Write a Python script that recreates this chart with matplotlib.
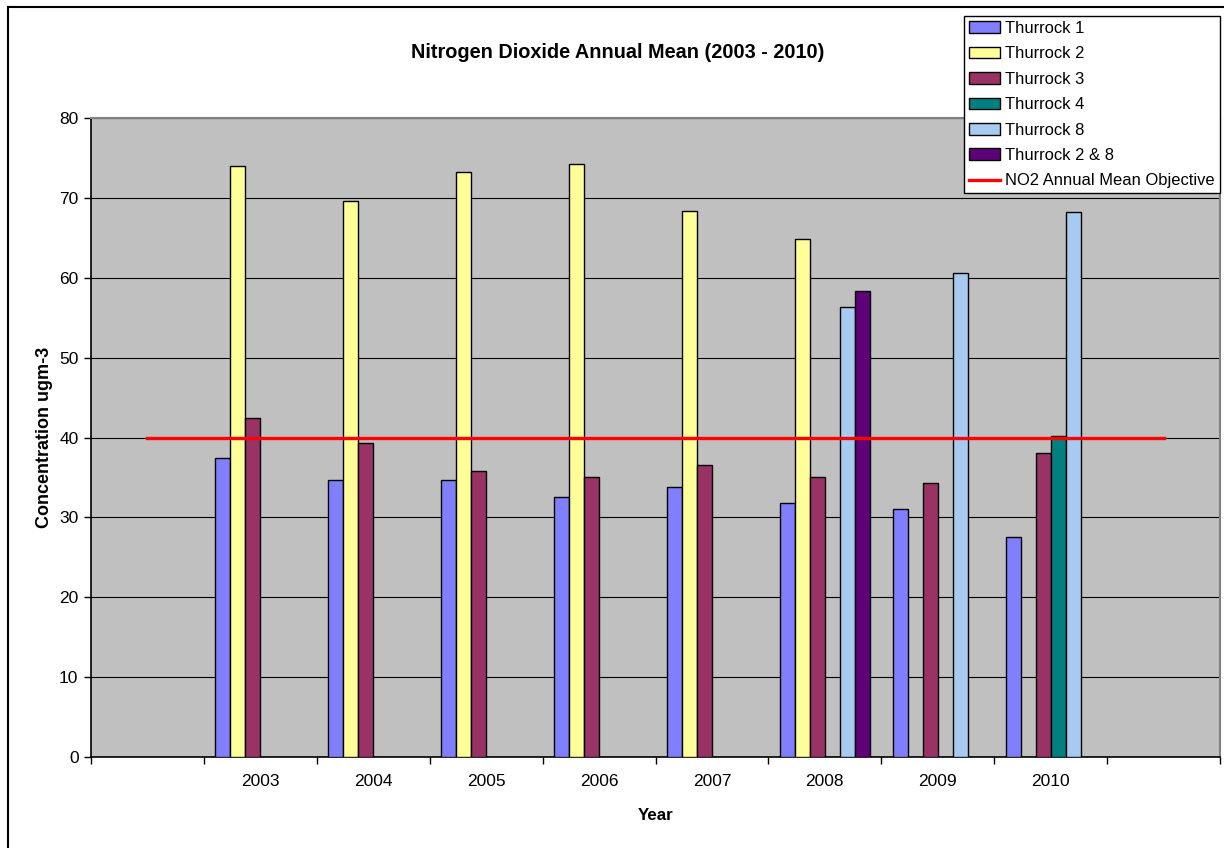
import numpy as np
import matplotlib
matplotlib.use("Agg")
import matplotlib.pyplot as plt
from matplotlib.lines import Line2D

plt.rcParams['font.family'] = ['Liberation Sans', 'DejaVu Sans']

categories = ['', '2003', '2004', '2005', '2006', '2007', '2008', '2009', '2010', '']
nan = np.nan
thurrock1 = [nan, 37.4, 34.7, 34.7, 32.5, 33.8, 31.8, 31.0, 27.6, nan]
thurrock2 = [nan, 74.0, 69.6, 73.3, 74.3, 68.4, 64.8, nan, nan, nan]
thurrock3 = [nan, 42.5, 39.3, 35.8, 35.0, 36.6, 35.1, 34.3, 38.0, nan]
thurrock4 = [nan, nan, nan, nan, nan, nan, nan, nan, 40.2, nan]
thurrock8 = [nan, nan, nan, nan, nan, nan, 56.4, 60.6, 68.2, nan]
thurrock28 = [nan, nan, nan, nan, nan, nan, 58.3, nan, nan, nan]
objective = [40] * 10

series = [
    ('Thurrock 1', thurrock1, '#8080FF'),
    ('Thurrock 2', thurrock2, '#FFFF99'),
    ('Thurrock 3', thurrock3, '#993366'),
    ('Thurrock 4', thurrock4, '#008080'),
    ('Thurrock 8', thurrock8, '#A6CAF0'),
    ('Thurrock 2 & 8', thurrock28, '#5E0078'),
]

W, H = 1224, 848
fig = plt.figure(figsize=(W / 100, H / 100), dpi=100)
ax = fig.add_axes([91 / W, 1 - 757 / H, (1220 - 91) / W, (757 - 118) / H])
ax.set_facecolor('#C0C0C0')

x = np.arange(len(categories))
bw = 0.133
n = len(series)
handles = []
for k, (name, vals, col) in enumerate(series):
    b = ax.bar(x + (k - (n - 1) / 2) * bw, vals, width=bw, color=col,
               edgecolor='black', linewidth=1.0, label=name, zorder=3)
    handles.append(b)

ln, = ax.plot(x, objective, color='#FF0000', linewidth=2.4, zorder=4,
              label='NO2 Annual Mean Objective')
handles.append(ln)

ax.set_xlim(-0.5, len(categories) - 0.5)
ax.set_ylim(0, 80)
ax.set_yticks(np.arange(0, 81, 10))
ax.yaxis.grid(True, color='black', linewidth=0.8, zorder=1)
ax.set_axisbelow(True)

ax.set_xticks(np.arange(-0.5, len(categories), 1.0))
ax.set_xticklabels([])
ax.set_xticks(x, minor=True)
ax.set_xticklabels(categories, minor=True)
ax.tick_params(axis='x', which='major', length=5, width=1, color='black', direction='out')
ax.tick_params(axis='x', which='minor', length=0, pad=12, labelsize=12.5)
ax.tick_params(axis='y', length=5, width=1, direction='out', pad=4, labelsize=12.5)

for s in ['left', 'bottom']:
    ax.spines[s].set_color('black')
    ax.spines[s].set_linewidth(1.2)
for s in ['top', 'right']:
    ax.spines[s].set_color('#808080')
    ax.spines[s].set_linewidth(1.5)

fig.text(618 / W, 1 - 52 / H, 'Nitrogen Dioxide Annual Mean (2003 - 2010)',
         ha='center', va='center', fontsize=14.3, fontweight='bold')
fig.text(45 / W, 1 - 437 / H, 'Concentration ugm-3', rotation=90,
         ha='center', va='center', fontsize=13, fontweight='bold')
fig.text(656 / W, 1 - 816 / H, 'Year', ha='center', va='center',
         fontsize=12.2, fontweight='bold')

leg = fig.legend(handles=handles, labels=[h.get_label() for h in handles],
                 loc='upper right', bbox_to_anchor=(1220 / W, 1 - 16 / H),
                 frameon=True, fancybox=False, framealpha=1, edgecolor='black',
                 fontsize=11.9, borderpad=0.3, labelspacing=0.63,
                 handlelength=1.9, handleheight=0.72, handletextpad=0.3,
                 borderaxespad=0)
leg.get_frame().set_linewidth(1.0)
leg.set_zorder(10)

# outer chart border
fig.add_artist(Line2D([8 / W, 8 / W], [0, 1 - 7 / H], color='black', linewidth=1.5,
                      transform=fig.transFigure))
fig.add_artist(Line2D([8 / W, 1], [1 - 7 / H, 1 - 7 / H], color='black', linewidth=1.5,
                      transform=fig.transFigure))

fig.savefig('out.png', dpi=100)
